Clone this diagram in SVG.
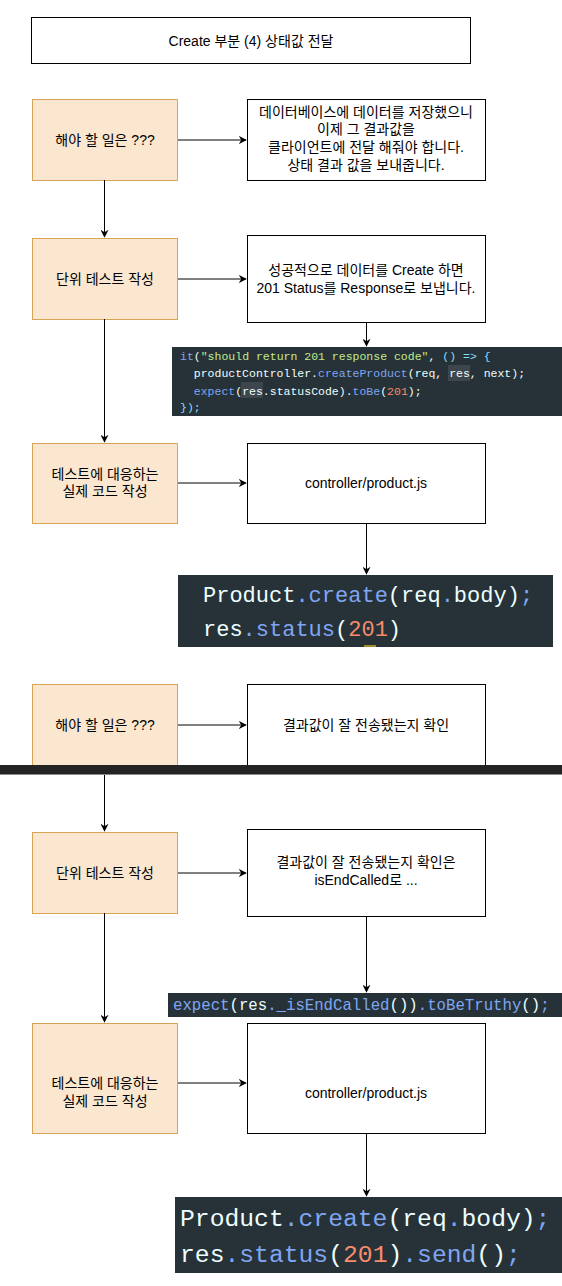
<svg xmlns="http://www.w3.org/2000/svg" width="562" height="1286" viewBox="0 0 562 1286">
<style>
.bg{fill:#ffffff}
.box{fill:#ffffff;stroke:#000000;stroke-width:1}
.ob{fill:#fbe6cf;stroke:#d6a455;stroke-width:1}
.t{font-family:"Liberation Sans","Noto Sans CJK KR",sans-serif;font-size:14px;fill:#000000;text-anchor:middle}
.code{fill:#263238}
.m{font-family:"Liberation Mono","DejaVu Sans Mono",monospace;fill:#eeffff}
.f{fill:#7fa6f2}
.s{fill:#c3e88d}
.n{fill:#f78c6c}
.p{fill:#89ddff}
.hl{fill:#3d464c}
.ln{stroke:#000000;stroke-width:1;fill:none}
</style>
<defs>
<marker id="ah" viewBox="0 0 10 10" refX="9" refY="5" markerWidth="8" markerHeight="8" markerUnits="userSpaceOnUse" orient="auto">
<path d="M0,0 L10,5 L0,10 L3,5 z" fill="#000000"/>
</marker>
</defs>
<rect class="bg" x="0" y="0" width="562" height="1286"/>

<g id="title"><rect class="box" x="31.5" y="17.5" width="439" height="46"/><text class="t" x="251" y="46">Create 부분 (4) 상태값 전달</text></g>

<g id="todo1"><rect class="ob" x="32.5" y="99.5" width="145" height="81"/><text class="t" x="105" y="145">해야 할 일은 ???</text></g>
<g id="desc1"><rect class="box" x="247.5" y="99.5" width="238" height="81"/>
<text class="t" x="366" y="117">데이터베이스에 데이터를 저장했으니</text>
<text class="t" x="366" y="134">이제 그 결과값을</text>
<text class="t" x="366" y="152">클라이언트에 전달 해줘야 합니다.</text>
<text class="t" x="366" y="170">상태 결과 값을 보내줍니다.</text></g>

<g id="test1"><rect class="ob" x="32.5" y="238.5" width="145" height="81"/><text class="t" x="105" y="284">단위 테스트 작성</text></g>
<g id="desc2"><rect class="box" x="247.5" y="235.5" width="238" height="87"/>
<text class="t" x="366" y="275">성공적으로 데이터를 Create 하면</text>
<text class="t" x="366" y="293">201 Status를 Response로 보냅니다.</text></g>

<g id="code1"><rect class="code" x="172" y="347" width="390" height="69"/>
<rect class="hl" x="448" y="365" width="22" height="16"/>
<rect class="hl" x="241" y="382" width="22" height="16"/>
<text class="m" xml:space="preserve" font-size="11.5" x="180" y="360"><tspan class="f">it</tspan>(<tspan class="s">"should return 201 response code"</tspan>, <tspan class="p">() =&gt; {</tspan></text>
<text class="m" xml:space="preserve" font-size="11.5" x="180" y="377">  productController.<tspan class="f">createProduct</tspan>(req, res, next);</text>
<text class="m" xml:space="preserve" font-size="11.5" x="180" y="395">  <tspan class="f">expect</tspan>(res.statusCode).<tspan class="f">toBe</tspan>(<tspan class="n">201</tspan>);</text>
<text class="m" xml:space="preserve" font-size="11.5" x="180" y="411"><tspan class="p">});</tspan></text></g>

<g id="impl1"><rect class="ob" x="32.5" y="443.5" width="145" height="80"/>
<text class="t" x="105" y="479">테스트에 대응하는</text>
<text class="t" x="105" y="496">실제 코드 작성</text></g>
<g id="file1"><rect class="box" x="247.5" y="443.5" width="238" height="80"/><text class="t" x="366" y="488">controller/product.js</text></g>

<g id="code2"><rect class="code" x="178" y="575" width="375" height="72"/>
<rect x="364" y="645" width="12" height="2" fill="#a08a2a"/>
<text class="m" font-size="22" x="203" y="602">Product<tspan class="f">.create</tspan>(req<tspan class="f">.</tspan>body)<tspan class="f">;</tspan></text>
<text class="m" font-size="22" x="203" y="636">res<tspan class="f">.status</tspan>(<tspan class="n">201</tspan>)</text></g>

<g id="todo2"><rect class="ob" x="32.5" y="684.5" width="145" height="90"/><text class="t" x="105" y="730">해야 할 일은 ???</text></g>
<g id="desc3"><rect class="box" x="247.5" y="684.5" width="238" height="90"/><text class="t" x="366" y="730">결과값이 잘 전송됐는지 확인</text></g>

<g id="divider"><rect x="0" y="765" width="562" height="9" fill="#242424"/><rect x="0" y="774" width="562" height="1" fill="#8a8a8a"/></g>

<g id="test2"><rect class="ob" x="32.5" y="832.5" width="145" height="81"/><text class="t" x="105" y="878">단위 테스트 작성</text></g>
<g id="desc4"><rect class="box" x="247.5" y="829.5" width="238" height="87"/>
<text class="t" x="366" y="867">결과값이 잘 전송됐는지 확인은</text>
<text class="t" x="366" y="885">isEndCalled로 ...</text></g>

<g id="code3"><rect class="code" x="168" y="993" width="394" height="24"/>
<text class="m" font-size="15.7" x="173" y="1010"><tspan class="f">expect</tspan>(res<tspan class="f">._isEndCalled</tspan>())<tspan class="f">.toBeTruthy</tspan>()<tspan class="f">;</tspan></text></g>

<g id="impl2"><rect class="ob" x="32.5" y="1023.5" width="145" height="110"/>
<text class="t" x="105" y="1088">테스트에 대응하는</text>
<text class="t" x="105" y="1106">실제 코드 작성</text></g>
<g id="file2"><rect class="box" x="247.5" y="1023.5" width="238" height="110"/><text class="t" x="366" y="1098">controller/product.js</text></g>

<g id="code4"><rect class="code" x="175" y="1197" width="387" height="76"/>
<text class="m" font-size="24.7" x="180" y="1226">Product<tspan class="f">.create</tspan>(req<tspan class="f">.</tspan>body)<tspan class="f">;</tspan></text>
<text class="m" font-size="24.7" x="180" y="1262">res<tspan class="f">.status</tspan>(<tspan class="n">201</tspan>)<tspan class="f">.send</tspan>()<tspan class="f">;</tspan></text></g>

<g id="connectors">
<path class="ln" d="M178,140 L246,140" marker-end="url(#ah)"/>
<path class="ln" d="M104.5,180 L104.5,237" marker-end="url(#ah)"/>
<path class="ln" d="M178,279 L246,279" marker-end="url(#ah)"/>
<path class="ln" d="M366.5,322 L366.5,346" marker-end="url(#ah)"/>
<path class="ln" d="M104.5,319 L104.5,442" marker-end="url(#ah)"/>
<path class="ln" d="M178,483 L246,483" marker-end="url(#ah)"/>
<path class="ln" d="M366.5,523 L366.5,574" marker-end="url(#ah)"/>
<path class="ln" d="M178,725 L246,725" marker-end="url(#ah)"/>
<path class="ln" d="M104.5,775 L104.5,831" marker-end="url(#ah)"/>
<path class="ln" d="M178,873 L246,873" marker-end="url(#ah)"/>
<path class="ln" d="M366.5,917 L366.5,992" marker-end="url(#ah)"/>
<path class="ln" d="M104.5,913 L104.5,1022" marker-end="url(#ah)"/>
<path class="ln" d="M178,1083 L246,1083" marker-end="url(#ah)"/>
<path class="ln" d="M366.5,1133 L366.5,1196" marker-end="url(#ah)"/>
</g>
</svg>
